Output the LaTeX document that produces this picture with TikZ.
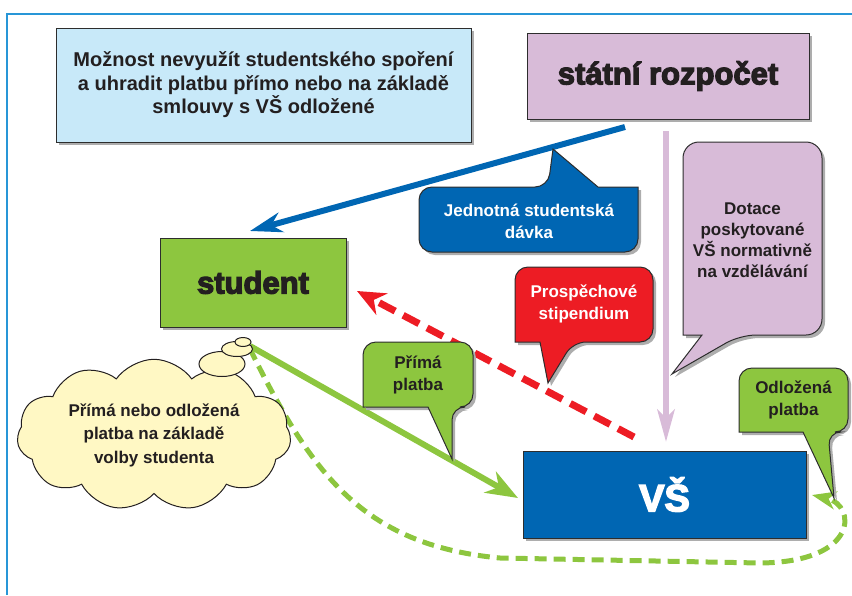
\documentclass[tikz,border=0pt]{standalone}
\usepackage{fontspec}
\setmainfont{Liberation Sans}
\newfontfamily\heavyfont{Liberation Sans}[BoldFeatures={FakeBold=4}]
\usetikzlibrary{arrows.meta,shadows,shapes.symbols,shapes.geometric,backgrounds}

\definecolor{framecol}{RGB}{40,150,215}
\definecolor{optfill}{RGB}{200,233,249}
\definecolor{lilac}{RGB}{216,187,216}
\definecolor{grn}{RGB}{141,198,63}
\definecolor{blu}{RGB}{0,102,179}
\definecolor{rd}{RGB}{237,28,36}
\definecolor{cloudfill}{RGB}{255,248,196}
\definecolor{ink}{RGB}{35,31,32}
\definecolor{edgecol}{RGB}{45,45,45}

\begin{document}
\begin{tikzpicture}[x=1pt,y=-1pt,
  shade3/.style={drop shadow={shadow xshift=3pt,shadow yshift=-3pt,fill=black!32,opacity=1}},
  box/.style={draw=edgecol,line width=1pt,shade3,inner sep=0pt},
  bubbletext/.style={align=center,text=ink,font=\bfseries\fontsize{17}{22}\selectfont},
  callout/.style={draw=edgecol,line width=1pt,shade3},
  bigword/.style={font=\heavyfont\bfseries\fontsize{31}{36}\selectfont,text=ink},
  puff/.style={ellipse,draw=ink,fill=cloudfill,line width=1pt,inner sep=0pt}
]
\useasboundingbox (0,0) rectangle (852,595);

% ---- main boxes ----
\node[box,fill=optfill,minimum width=415pt,minimum height=114pt,align=center,
      text=ink,font=\bfseries\fontsize{20}{23.5}\selectfont] (option) at (263.5,85)
  {Možnost nevyužít studentského spoření\\a uhradit platbu přímo nebo na základě\\smlouvy s VŠ odložené};
\node[box,fill=lilac,minimum width=282pt,minimum height=86pt,bigword] (budget) at (668,76) {státní rozpočet};
\node[box,fill=grn,minimum width=186pt,minimum height=89pt,bigword] (student) at (253,282.5) {student};
\node[box,fill=blu,minimum width=283pt,minimum height=87pt,text=white,
      font=\heavyfont\bfseries\fontsize{38}{42}\selectfont] (vs) at (664.5,494.5) {VŠ};

% ---- connector end points ----
\coordinate (dotA) at (625,127);
\coordinate (dotB) at (250,231);
\coordinate (stipA) at (634,437);
\coordinate (stipB) at (357,291);
\coordinate (subA) at (666,131);
\coordinate (subB) at (666,442);
\coordinate (payA) at (250,346);
\coordinate (payB) at (518,498);
\coordinate (delA) at (250,349);
\coordinate (delM) at (500,558);
\coordinate (delN) at (760,563);
\coordinate (delB) at (812,495);

\begin{scope}[on background layer]
  % frame
  \draw[framecol,line width=1.5pt] (7,595) -- (7,14) -- (852,14);
  % flows
  \draw[blu,line width=6pt,-{Stealth[length=32pt,width=20pt,inset=10pt]}] (dotA) -- (dotB);
  \draw[rd,line width=7pt,dash pattern=on 18pt off 9pt,-{Stealth[length=28pt,width=24pt,inset=9pt]}] (stipA) -- (stipB);
  \draw[lilac,line width=6pt,-{Stealth[length=32pt,width=17pt,inset=8pt]}] (subA) -- (subB);
  \draw[grn,line width=6pt,-{Stealth[length=32pt,width=24pt,inset=10pt]}] (payA) -- (payB);
  \draw[grn,line width=5pt,dash pattern=on 12pt off 7pt,-{Stealth[length=24pt,width=18pt,inset=7pt]}]
    (delA) .. controls (310,470) and (360,545) .. (delM) -- (delN)
    .. controls (860,562) and (856,505) .. (delB);
\end{scope}

% ---- speech bubbles ----
\path[callout,fill=blu] (419,220) [rounded corners=13pt] -- (419,187) -- (548,187) [sharp corners]
  -- (553,149) -- (598,187) -- (638,187) [rounded corners=13pt] -- (638,252) -- (419,252) -- cycle;
\node[bubbletext,text=white] (lumpsum) at (529,221) {Jednotná studentská\\dávka};

\path[callout,fill=rd] (515,300) [rounded corners=13pt] -- (515,267) -- (653,267) -- (653,342)
  -- (573,342) [sharp corners] -- (548,383) -- (540,342) -- (515,342) [rounded corners=13pt] -- cycle;
\node[bubbletext,text=white] (merit) at (584,304) {Prospěchové\\stipendium};

\path[callout,fill=lilac] (683,240) [rounded corners=16pt] -- (683,142) -- (822,142) -- (822,335)
  -- (740,335) [sharp corners] -- (672,374) -- (702,335) -- (683,335) [rounded corners=12pt] -- cycle;
\node[bubbletext,font=\bfseries\fontsize{17}{21}\selectfont] (grant) at (752.5,240)
  {Dotace\\poskytované\\VŠ normativně\\na vzdělávání};

\path[callout,fill=grn] (363,375) [rounded corners=13pt] -- (363,342) -- (473,342) -- (473,407)
  -- (452,407) [sharp corners] -- (452,459) -- (428,407) -- (363,407) [rounded corners=13pt] -- cycle;
\node[bubbletext] (direct) at (418,375) {Přímá\\platba};

\path[callout,fill=grn] (739,400) [rounded corners=13pt] -- (739,368) -- (848,368) -- (848,432)
  -- (828,432) [sharp corners] -- (834,498) -- (803,432) -- (739,432) [rounded corners=13pt] -- cycle;
\node[bubbletext] (deferred) at (793.5,400) {Odložená\\platba};

% ---- thought cloud ----
\node[cloud,cloud puffs=11,cloud puff arc=110,aspect=2,draw=ink,fill=cloudfill,line width=1pt,
      minimum width=274pt,minimum height=144pt,inner sep=0pt,
      align=center,text=ink,font=\bfseries\fontsize{17}{23.5}\selectfont] (choice) at (154,435)
  {Přímá nebo odložená\\platba na základě\\volby studenta};
\node[puff,minimum width=46pt,minimum height=25pt] (puffL) at (222,364) {};
\node[puff,minimum width=31pt,minimum height=15pt] (puffM) at (237,349) {};
\node[puff,minimum width=16pt,minimum height=9pt] (puffS) at (243,342) {};
\end{tikzpicture}
\end{document}
